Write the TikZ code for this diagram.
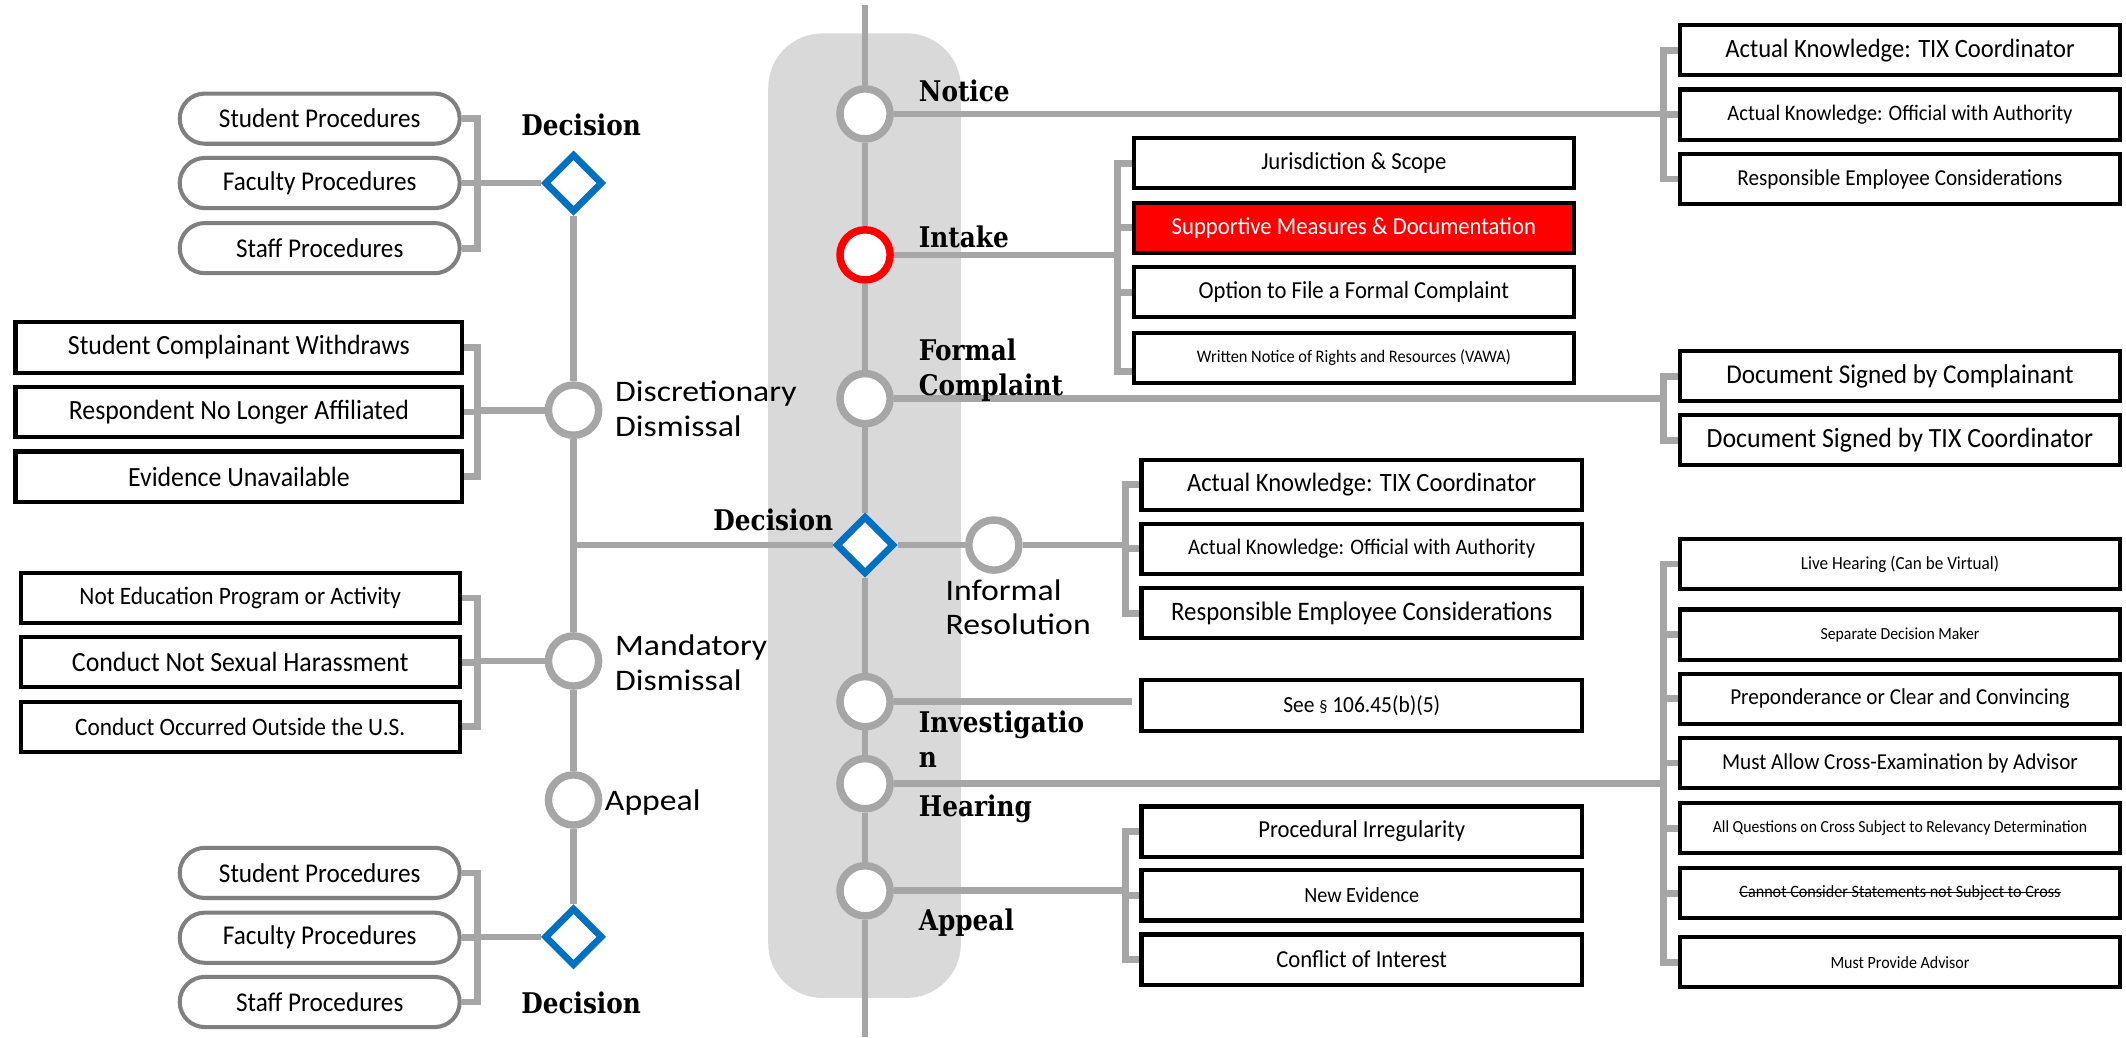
\documentclass[tikz,border=0pt]{standalone}
\usepackage{fontspec}
\usetikzlibrary{shapes.geometric,backgrounds}
\newfontfamily\boxfont[FakeStretch=0.93]{Carlito}
\newfontfamily\labfont[FakeStretch=1.13]{Carlito}
\newfontfamily\stepfont[FakeStretch=0.87]{DejaVu Serif}
\newcommand\bx[1]{\boxfont\fontsize{#1}{#1}\selectfont}
\newsavebox\mystrikebox
\newcommand\mystrike[1]{\sbox\mystrikebox{#1}\rlap{\rule[0.3em]{\wd\mystrikebox}{0.7pt}}\usebox\mystrikebox}
\definecolor{lgray}{HTML}{A6A6A6}
\definecolor{bandgray}{HTML}{D9D9D9}
\definecolor{pgray}{HTML}{808080}
\definecolor{dblue}{HTML}{0070C0}
\definecolor{tred}{HTML}{FF0000}
\begin{document}
\begin{tikzpicture}[x=1pt,y=-1pt,
  gline/.style={draw=lgray, line width=5pt},
  stopnode/.style={circle, draw=lgray, line width=5.5pt, fill=white, minimum size=37pt, inner sep=0pt},
  redstop/.style={stopnode, draw=tred},
  decnode/.style={diamond, draw=dblue, line width=5pt, fill=white, minimum width=43pt, minimum height=43pt, inner sep=0pt},
  rbox/.style={draw=black, line width=3pt, fill=white, minimum width=324.8pt, minimum height=37pt, inner sep=0pt},
  lbox/.style={draw=black, line width=3pt, fill=white, minimum height=37pt, inner sep=0pt},
  pbox/.style={rounded corners=18.5pt, draw=pgray, line width=3pt, fill=white, minimum width=206.5pt, minimum height=37pt, inner sep=0pt, font=\bx{20}},
  steplab/.style={anchor=base west, inner sep=0pt, align=left, font=\stepfont\bfseries\fontsize{21}{25.5}\selectfont},
  declab/.style={anchor=base, inner sep=0pt, font=\stepfont\bfseries\fontsize{21}{25.5}\selectfont},
  lab/.style={anchor=base west, inner sep=0pt, align=left, font=\labfont\fontsize{22}{25.4}\selectfont}
]
\useasboundingbox (0,0) rectangle (1568,765);

% bracket columns and free ends
\coordinate (brR) at (1227,0);
\coordinate (brI) at (824,0);
\coordinate (brD) at (830,0);
\coordinate (brL) at (352,0);
\coordinate (mtop) at (638,4);
\coordinate (mbot) at (638,765);
\coordinate (invend) at (835,517.5);

% main line stops
\node[stopnode] (cNotice) at (638,84) {};
\node[redstop] (cIntake) at (638,188) {};
\node[stopnode] (cForm) at (638,294) {};
\node[decnode] (dMid) at (638,402) {};
\node[stopnode] (cInv) at (638,517.5) {};
\node[stopnode] (cHear) at (638,578) {};
\node[stopnode] (cApp) at (638,657) {};
\node[stopnode] (cInf) at (733,402) {};

% left line stops
\node[decnode] (dTop) at (423,135) {};
\node[stopnode] (cDisc) at (423,302.5) {};
\node[stopnode] (cMand) at (423,487.5) {};
\node[stopnode] (cAppL) at (423,590) {};
\node[decnode] (dBot) at (423,691) {};

% labels (multi-line: base = last line)
\node[steplab] (lNotice) at (677.5,75) {Notice};
\node[steplab] (lIntake) at (677.5,182.5) {Intake};
\node[steplab] (lForm) at (677.5,291.5) {Formal\\Complaint};
\node[steplab] (lInv) at (677.5,566) {Investigatio\\n};
\node[steplab] (lHear) at (677.5,602.3) {Hearing};
\node[steplab] (lApp) at (677.5,686) {Appeal};
\node[steplab] (lDecM) at (526,391) {Decision};
\node[declab] (lDecT) at (428.6,99.6) {Decision};
\node[declab] (lDecB) at (428.6,747.3) {Decision};
\node[lab] (lDisc) at (453.5,321.8) {Discretionary\\Dismissal};
\node[lab] (lMand) at (453.5,508.9) {Mandatory\\Dismissal};
\node[lab] (lAppL) at (446,597.4) {Appeal};
\node[lab] (lInf) at (697.2,468.3) {Informal\\Resolution};

% notice group
\node[rbox, font=\bx{19.5}] (nb1) at (1401.3,37) {Actual Knowledge: TIX Coordinator};
\node[rbox, font=\bx{16.3}] (nb2) at (1401.3,84.5) {Actual Knowledge: Official with Authority};
\node[rbox, font=\bx{16.8}] (nb3) at (1401.3,132) {Responsible Employee Considerations};
% formal complaint group
\node[rbox, font=\bx{20}] (fb1) at (1401.3,277.5) {Document Signed by Complainant};
\node[rbox, font=\bx{20.5}] (fb2) at (1401.3,324.7) {Document Signed by TIX Coordinator};
% hearing group
\node[rbox, font=\bx{13.6}] (hb1) at (1401.3,416) {Live Hearing (Can be Virtual)};
\node[rbox, font=\bx{12.5}] (hb2) at (1401.3,468) {Separate Decision Maker};
\node[rbox, font=\bx{16.8}] (hb3) at (1401.3,515.4) {Preponderance or Clear and Convincing};
\node[rbox, font=\bx{16.8}] (hb4) at (1401.3,562.7) {Must Allow Cross-Examination by Advisor};
\node[rbox, font=\bx{12.5}] (hb5) at (1401.3,610.9) {All Questions on Cross Subject to Relevancy Determination};
\node[rbox, font=\bx{12.8}] (hb6) at (1401.3,658.8) {\mystrike{Cannot Consider Statements not Subject to Cross}};
\node[rbox, font=\bx{12.7}] (hb7) at (1401.3,709.6) {Must Provide Advisor};
% intake group
\node[rbox, font=\bx{18}] (ib1) at (998.5,120.5) {Jurisdiction \& Scope};
\node[rbox, font=\bx{18}, fill=tred, text=white] (ib2) at (998.5,168) {Supportive Measures \& Documentation};
\node[rbox, font=\bx{18}] (ib3) at (998.5,215.6) {Option to File a Formal Complaint};
\node[rbox, font=\bx{13}] (ib4) at (998.5,264) {Written Notice of Rights and Resources (VAWA)};
% decision / informal group
\node[rbox, font=\bx{19.5}] (db1) at (1004.3,357.5) {Actual Knowledge: TIX Coordinator};
\node[rbox, font=\bx{16.4}] (db2) at (1004.3,404.8) {Actual Knowledge: Official with Authority};
\node[rbox, font=\bx{19.7}] (db3) at (1004.3,452.3) {Responsible Employee Considerations};
\node[rbox, font=\bx{17}] (sb) at (1004.3,520.3) {See {\fontsize{13}{13}\selectfont\S} 106.45(b)(5)};
% appeal group
\node[rbox, font=\bx{18}] (ab1) at (1004.3,613.3) {Procedural Irregularity};
\node[rbox, font=\bx{16}] (ab2) at (1004.3,660.4) {New Evidence};
\node[rbox, font=\bx{18}] (ab3) at (1004.3,707.7) {Conflict of Interest};

% left groups
\node[pbox] (pt1) at (235.8,87.5) {Student Procedures};
\node[pbox] (pt2) at (235.8,135) {Faculty Procedures};
\node[pbox] (pt3) at (235.8,183) {Staff Procedures};
\node[lbox, minimum width=329.5pt, font=\bx{20.5}] (ds1) at (176.2,256.3) {Student Complainant Withdraws};
\node[lbox, minimum width=329.5pt, font=\bx{20.5}] (ds2) at (176.2,303.8) {Respondent No Longer Affiliated};
\node[lbox, minimum width=329.5pt, font=\bx{20.5}] (ds3) at (176.2,351.5) {Evidence Unavailable};
\node[lbox, minimum width=323.7pt, font=\bx{18.5}] (md1) at (177.2,441) {Not Education Program or Activity};
\node[lbox, minimum width=323.7pt, font=\bx{20.5}] (md2) at (177.2,488.5) {Conduct Not Sexual Harassment};
\node[lbox, minimum width=323.7pt, font=\bx{18.5}] (md3) at (177.2,536.1) {Conduct Occurred Outside the U.S.};
\node[pbox] (pb1) at (235.8,643.8) {Student Procedures};
\node[pbox] (pb2) at (235.8,691.6) {Faculty Procedures};
\node[pbox] (pb3) at (235.8,739) {Staff Procedures};

\begin{scope}[on background layer]
  \fill[bandgray, rounded corners=40pt] (566.6,24.6) rectangle (708.7,736);
  % main vertical line
  \draw[gline] (mtop) -- (cNotice) -- (cIntake) -- (cForm) -- (dMid) -- (cInv) -- (cHear) -- (cApp) -- (mbot);
  % left vertical line
  \draw[gline] (dTop) -- (cDisc) -- (cMand) -- (cAppL) -- (dBot);
  \draw[gline] (dMid) -- (dMid -| cDisc);
  \draw[gline] (dMid) -- (cInf);
  % notice
  \draw[gline] (cNotice) -- (cNotice -| brR);
  \draw[gline] (nb1.west) -- (nb1.west -| brR) -- (nb3.west -| brR) -- (nb3.west);
  \draw[gline] (nb2.west) -- (nb2.west -| brR);
  % intake
  \draw[gline] (cIntake) -- (cIntake -| brI);
  \draw[gline] (ib1.west) -- (ib1.west -| brI) -- ([yshift=-10pt]ib4.west -| brI) -- ([yshift=-10pt]ib4.west);
  \draw[gline] (ib2.west) -- (ib2.west -| brI);
  \draw[gline] (ib3.west) -- (ib3.west -| brI);
  % formal complaint
  \draw[gline] (cForm) -- (cForm -| brR);
  \draw[gline] (fb1.west) -- (fb1.west -| brR) -- (fb2.west -| brR) -- (fb2.west);
  % informal resolution
  \draw[gline] (cInf) -- (cInf -| brD);
  \draw[gline] (db1.west) -- (db1.west -| brD) -- (db3.west -| brD) -- (db3.west);
  \draw[gline] (db2.west) -- (db2.west -| brD);
  % investigation
  \draw[gline] (cInv) -- (invend);
  % hearing
  \draw[gline] (cHear) -- (cHear -| brR);
  \draw[gline] (hb1.west) -- (hb1.west -| brR) -- (hb7.west -| brR) -- (hb7.west);
  \foreach \b in {hb2,hb3,hb4,hb5,hb6} \draw[gline] (\b.west) -- (\b.west -| brR);
  % appeal
  \draw[gline] (cApp) -- (cApp -| brD);
  \draw[gline] (ab1.west) -- (ab1.west -| brD) -- (ab3.west -| brD) -- (ab3.west);
  \draw[gline] (ab2.west) -- (ab2.west -| brD);
  % left groups
  \draw[gline] (dTop) -- (dTop -| brL);
  \draw[gline] (pt1.east) -- (pt1.east -| brL) -- (pt3.east -| brL) -- (pt3.east);
  \draw[gline] (pt2.east) -- (pt2.east -| brL);
  \draw[gline] (cDisc) -- (cDisc -| brL);
  \draw[gline] (ds1.east) -- (ds1.east -| brL) -- (ds3.east -| brL) -- (ds3.east);
  \draw[gline] (ds2.east) -- (ds2.east -| brL);
  \draw[gline] (cMand) -- (cMand -| brL);
  \draw[gline] (md1.east) -- (md1.east -| brL) -- (md3.east -| brL) -- (md3.east);
  \draw[gline] (md2.east) -- (md2.east -| brL);
  \draw[gline] (dBot) -- (dBot -| brL);
  \draw[gline] (pb1.east) -- (pb1.east -| brL) -- (pb3.east -| brL) -- (pb3.east);
  \draw[gline] (pb2.east) -- (pb2.east -| brL);
\end{scope}
\end{tikzpicture}
\end{document}
